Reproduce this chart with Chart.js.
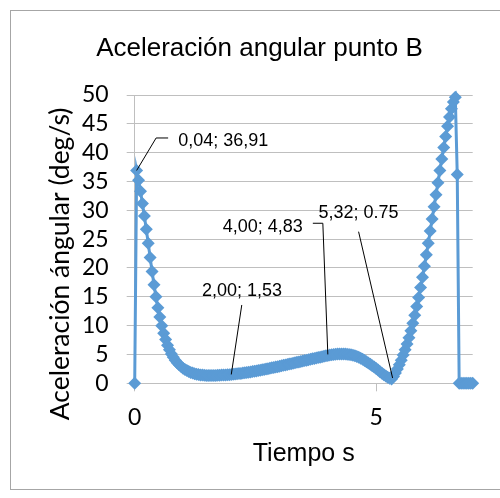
<!DOCTYPE html>
<html>
<head>
<meta charset="utf-8">
<title>Aceleración angular punto B</title>
<script src="https://cdn.jsdelivr.net/npm/chart.js@4/dist/chart.umd.min.js"></script>
<style>
    html, body { margin: 0; padding: 0; background: #fff; }
    .chart-wrap { position: relative; width: 500px; height: 498px; overflow: hidden; }
    .chart-wrap canvas { display: block; }
    .chart-frame {
        position: absolute; left: 10px; top: 10px; width: 520px; height: 480px;
        border: 1px solid #a6a6a6; box-sizing: border-box; pointer-events: none;
    }
</style>
</head>
<body>
<div class="chart-wrap">
    <canvas id="chart" width="500" height="498"></canvas>
    <div class="chart-frame"></div>
</div>
<script>
// tiempo (s), paso de 0,04
var tiempo = [
    0.00, 0.04, 0.08, 0.12, 0.16, 0.20, 0.24, 0.28, 0.32, 0.36,
    0.40, 0.44, 0.48, 0.52, 0.56, 0.60, 0.64, 0.68, 0.72, 0.76,
    0.80, 0.84, 0.88, 0.92, 0.96, 1.00, 1.04, 1.08, 1.12, 1.16,
    1.20, 1.24, 1.28, 1.32, 1.36, 1.40, 1.44, 1.48, 1.52, 1.56,
    1.60, 1.64, 1.68, 1.72, 1.76, 1.80, 1.84, 1.88, 1.92, 1.96,
    2.00, 2.04, 2.08, 2.12, 2.16, 2.20, 2.24, 2.28, 2.32, 2.36,
    2.40, 2.44, 2.48, 2.52, 2.56, 2.60, 2.64, 2.68, 2.72, 2.76,
    2.80, 2.84, 2.88, 2.92, 2.96, 3.00, 3.04, 3.08, 3.12, 3.16,
    3.20, 3.24, 3.28, 3.32, 3.36, 3.40, 3.44, 3.48, 3.52, 3.56,
    3.60, 3.64, 3.68, 3.72, 3.76, 3.80, 3.84, 3.88, 3.92, 3.96,
    4.00, 4.04, 4.08, 4.12, 4.16, 4.20, 4.24, 4.28, 4.32, 4.36,
    4.40, 4.44, 4.48, 4.52, 4.56, 4.60, 4.64, 4.68, 4.72, 4.76,
    4.80, 4.84, 4.88, 4.92, 4.96, 5.00, 5.04, 5.08, 5.12, 5.16,
    5.20, 5.24, 5.28, 5.32, 5.36, 5.40, 5.44, 5.48, 5.52, 5.56,
    5.60, 5.64, 5.68, 5.72, 5.76, 5.80, 5.84, 5.88, 5.92, 5.96,
    6.00, 6.04, 6.08, 6.12, 6.16, 6.20, 6.24, 6.28, 6.32, 6.36,
    6.40, 6.44, 6.48, 6.52, 6.56, 6.60, 6.64, 6.68, 6.72, 6.76,
    6.80, 6.84, 6.88, 6.92, 6.96, 7.00
];

// aceleración angular (deg/s)
var aceleracion = [
    0, 36.91, 35.2, 33.3, 31.2, 29.0, 26.7, 24.3, 21.8, 19.4,
    17.1, 15.0, 13.1, 11.5, 10.0, 8.7, 7.6, 6.6, 5.8, 5.1,
    4.5, 4.0, 3.55, 3.2, 2.9, 2.63, 2.4, 2.2, 2.03, 1.89,
    1.77, 1.67, 1.59, 1.52, 1.46, 1.42, 1.39, 1.37, 1.36, 1.35,
    1.35, 1.36, 1.37, 1.38, 1.40, 1.42, 1.44, 1.46, 1.48, 1.50,
    1.53, 1.56, 1.60, 1.64, 1.68, 1.72, 1.77, 1.82, 1.87, 1.92,
    1.97, 2.03, 2.09, 2.15, 2.21, 2.27, 2.33, 2.40, 2.47, 2.54,
    2.61, 2.68, 2.75, 2.82, 2.89, 2.96, 3.04, 3.11, 3.19, 3.26,
    3.34, 3.41, 3.49, 3.56, 3.64, 3.71, 3.79, 3.86, 3.94, 4.01,
    4.09, 4.16, 4.24, 4.31, 4.39, 4.46, 4.53, 4.61, 4.68, 4.76,
    4.83, 4.89, 4.95, 5.00, 5.04, 5.07, 5.09, 5.10, 5.10, 5.08,
    5.05, 5.00, 4.94, 4.86, 4.76, 4.64, 4.50, 4.34, 4.16, 3.96,
    3.75, 3.53, 3.30, 3.06, 2.81, 2.55, 2.29, 2.02, 1.75, 1.50,
    1.26, 1.05, 0.88, 0.75, 1.2, 1.8, 2.5, 3.2, 4.0, 4.9,
    5.8, 6.8, 7.9, 9.1, 10.4, 11.8, 13.3, 14.9, 16.6, 18.4,
    20.3, 22.3, 24.3, 26.4, 28.5, 30.6, 32.7, 34.8, 36.9, 38.9,
    40.9, 42.8, 44.6, 46.2, 47.6, 48.8, 49.6, 36.2, 0, 0,
    0, 0, 0, 0, 0, 0
];

var xTicks = [0, 5];
var yTicks = [0, 5, 10, 15, 20, 25, 30, 35, 40, 45, 50];

// puntos con etiqueta de datos
var notasIndice = [1, 50, 100, 133];
var notasTexto = ["0,04; 36,91", "2,00; 1,53", "4,00; 4,83", "5,32; 0.75"];

var AZUL = "#5b9bd5",
    GRIS = "#bfbfbf",
    NEGRO = "#000";

var SANS = "'Liberation Sans', Arial, sans-serif";

// posicion del texto y de la linea guia, relativas al punto
var NOTAS_LAYOUT = [
    { align: "left", dx: 41.5, dy: -24.5, guia: [[31.5, -32.5], [19.5, -32.5], [0, 0]] },
    { align: "center", dx: 10.8, dy: -78.5, guia: [[10.5, -69.5], [0, 0]] },
    { align: "right", dx: -25, dy: -123.8, guia: [[-15, -132.2], [-5, -132.2], [0, -1]] },
    { align: "center", dx: -33, dy: -160.7, guia: [[-33, -147.3], [1, -1]] }
];

var puntos = tiempo.map(function(t, i) {
    return { x: t, y: aceleracion[i] };
});

var textosPlugin = {
    id: "textos",
    afterDatasetsDraw: function(chart) {
        var ctx = chart.ctx,
            meta = chart.getDatasetMeta(0);

        ctx.save();

        // titulo
        ctx.fillStyle = NEGRO;
        ctx.font = "26px " + SANS;
        ctx.textAlign = "center";
        ctx.textBaseline = "alphabetic";
        ctx.fillText("Aceleración angular punto B", 259.5, 56);

        // titulo del eje vertical
        ctx.save();
        ctx.translate(69, 264);
        ctx.rotate(-Math.PI / 2);
        ctx.font = "26.5px Lato, sans-serif";
        ctx.fillText("Aceleración ángular (deg/s)", 0, 0);
        ctx.restore();

        // etiquetas de datos con su linea guia
        ctx.font = "18px " + SANS;
        ctx.strokeStyle = NEGRO;
        ctx.lineWidth = 1;
        notasIndice.forEach(function(idx, n) {
            var el = meta.data[idx],
                cfg = NOTAS_LAYOUT[n];

            ctx.beginPath();
            cfg.guia.forEach(function(p, k) {
                if (k === 0) {
                    ctx.moveTo(el.x + p[0], el.y + p[1]);
                } else {
                    ctx.lineTo(el.x + p[0], el.y + p[1]);
                }
            });
            ctx.stroke();

            ctx.textAlign = cfg.align;
            ctx.fillText(notasTexto[n], el.x + cfg.dx, el.y + cfg.dy);
        });

        ctx.restore();
    }
};

var chart = new Chart(document.getElementById("chart"), {
    type: "scatter",
    data: {
        datasets: [{
            data: puntos,
            showLine: true,
            borderColor: AZUL,
            backgroundColor: AZUL,
            borderWidth: 3,
            pointStyle: "rectRot",
            pointRadius: 6.5,
            pointHoverRadius: 6.5,
            pointBorderWidth: 0,
            tension: 0,
            clip: false
        }]
    },
    options: {
        responsive: false,
        animation: false,
        devicePixelRatio: 1,
        events: [],
        layout: {
            padding: { top: 95, right: 27.3, bottom: 0, left: 0 }
        },
        plugins: {
            legend: { display: false },
            tooltip: { enabled: false },
            title: { display: false }
        },
        scales: {
            x: {
                type: "linear",
                min: 0,
                max: 7,
                afterBuildTicks: function(scale) {
                    scale.ticks = xTicks.map(function(v) { return { value: v }; });
                },
                afterFit: function(scale) {
                    scale.height = 114.7;
                },
                grid: {
                    drawOnChartArea: false,
                    drawTicks: true,
                    tickLength: 8,
                    color: GRIS
                },
                border: { color: GRIS },
                ticks: {
                    color: NEGRO,
                    padding: 12,
                    autoSkip: false,
                    font: { family: "Lato", size: 23 }
                },
                title: {
                    display: true,
                    text: "Tiempo s",
                    color: NEGRO,
                    font: { family: "'Liberation Sans', Arial", size: 25 },
                    padding: { top: 0, bottom: 28.4 }
                }
            },
            y: {
                min: 0,
                max: 50,
                afterBuildTicks: function(scale) {
                    scale.ticks = yTicks.map(function(v) { return { value: v }; });
                },
                afterFit: function(scale) {
                    scale.width = 134.7;
                },
                grid: {
                    color: GRIS,
                    tickLength: 8
                },
                border: { color: GRIS },
                ticks: {
                    color: NEGRO,
                    padding: 18,
                    autoSkip: false,
                    font: { family: "Lato", size: 23 }
                }
            }
        }
    },
    plugins: [textosPlugin]
});
</script>
</body>
</html>
